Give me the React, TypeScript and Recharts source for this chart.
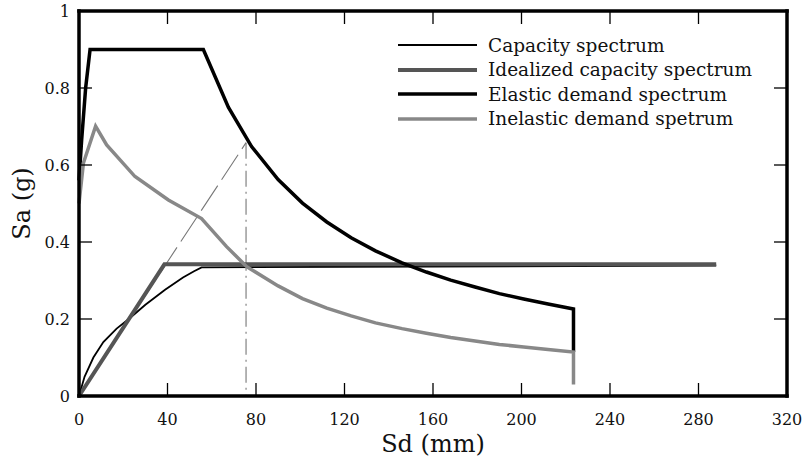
import { Legend, Line, LineChart, XAxis, YAxis } from 'recharts';

const sdTicks = [0, 40, 80, 120, 160, 200, 240, 280, 320];
const saTicks = [0, 0.2, 0.4, 0.6, 0.8, 1];

// capacity curve (pushover converted to ADRS)
const capacitySd = [0, 2.5, 6.5, 11, 17, 22.5, 30, 38.9, 47, 52, 55.4, 288];
const capacitySa = [0, 0.05, 0.1, 0.14, 0.175, 0.2, 0.237, 0.276, 0.308, 0.324, 0.334, 0.339];

// bilinear idealization
const idealSd = [0, 38.6, 288];
const idealSa = [0, 0.342, 0.342];

const elasticSd = [0, 1.2, 3, 5, 56.2, 67.5, 78, 90, 101, 112, 123, 134, 146, 157, 168, 179, 190, 201, 212, 223.5, 223.5];
const elasticSa = [0.56, 0.665, 0.8, 0.9, 0.9, 0.75, 0.648, 0.562, 0.501, 0.452, 0.411, 0.377, 0.346, 0.322, 0.301, 0.283, 0.266, 0.252, 0.239, 0.226, 0.114];

const inelasticSd = [0, 2, 7.5, 12.5, 25.3, 40.4, 55.4, 66.7, 75.8, 90, 101, 112, 123, 134, 146, 157, 168, 179, 190, 201, 212, 223.5, 223.5];
const inelasticSa = [0.5, 0.605, 0.701, 0.652, 0.57, 0.509, 0.461, 0.388, 0.336, 0.286, 0.253, 0.228, 0.208, 0.19, 0.175, 0.163, 0.152, 0.143, 0.134, 0.127, 0.121, 0.114, 0.03];

// construction lines for the performance point
const slopeSd = [0, 75.5];
const slopeSa = [0, 0.658];
const dropSd = [75.5, 75.5];
const dropSa = [0.658, 0];

const zip = (sd: number[], sa: number[]) => sd.map((v, i) => ({ sd: v, sa: sa[i] }));

const SERIES = [
  { name: 'Capacity spectrum', color: '#000000', width: 1.8, data: zip(capacitySd, capacitySa) },
  { name: 'Idealized capacity spectrum', color: '#555555', width: 4, data: zip(idealSd, idealSa) },
  { name: 'Elastic demand spectrum', color: '#000000', width: 3.5, data: zip(elasticSd, elasticSa) },
  { name: 'Inelastic demand spetrum', color: '#888888', width: 3.5, data: zip(inelasticSd, inelasticSa) },
];

const FONT = '"DejaVu Serif", serif';

const W = 803;
const H = 460;
const MARGIN = { top: 10, right: 15, left: 0, bottom: 0 };
const Y_AXIS_W = 79;
const X_AXIS_H = 64;
const SD_MAX = 320;
const SA_MAX = 1;
const TICK = 13;

// plot box, same numbers the chart lays itself out with
const PX0 = MARGIN.left + Y_AXIS_W;
const PX1 = W - MARGIN.right - 1;
const PY0 = MARGIN.top + 1;
const PY1 = H - MARGIN.bottom - X_AXIS_H;
const sx = (v: number) => PX0 + (v / SD_MAX) * (PX1 - PX0);
const sy = (v: number) => PY1 - (v / SA_MAX) * (PY1 - PY0);

// inward tick marks on all four sides (the frame in the reference has them everywhere)
function TickMarks() {
  return (
    <svg width={W} height={H} style={{ position: 'absolute', left: 0, top: 0, pointerEvents: 'none' }}>
      {sdTicks.slice(1, -1).map((v) => (
        <g key={`x${v}`} stroke="#000" strokeWidth={1.3}>
          <line x1={sx(v)} y1={PY1} x2={sx(v)} y2={PY1 - TICK} />
          <line x1={sx(v)} y1={PY0} x2={sx(v)} y2={PY0 + TICK} />
        </g>
      ))}
      {saTicks.slice(1, -1).map((v) => (
        <g key={`y${v}`} stroke="#000" strokeWidth={1.3}>
          <line x1={PX0} y1={sy(v)} x2={PX0 + TICK} y2={sy(v)} />
          <line x1={PX1} y1={sy(v)} x2={PX1 - TICK} y2={sy(v)} />
        </g>
      ))}
    </svg>
  );
}

function LegendBox() {
  return (
    <div style={{ fontFamily: FONT, fontSize: 18.5, color: '#111' }}>
      {SERIES.map((s) => (
        <div key={s.name} style={{ display: 'flex', alignItems: 'center', height: 24.5 }}>
          <svg width={79} height={10} style={{ marginRight: 11 }}>
            <line x1={0} y1={5} x2={79} y2={5} stroke={s.color} strokeWidth={s.width} />
          </svg>
          <span style={{ whiteSpace: 'nowrap' }}>{s.name}</span>
        </div>
      ))}
    </div>
  );
}

// tickSize=0 and tickMargin=0, so (x, y) sits on the axis line
const bottomTick = ({ x, y, payload }: any) => (
  <text x={x} y={y + 29} textAnchor="middle" fill="#111" fontSize={16} fontFamily={FONT}>
    {payload.value}
  </text>
);
const leftTick = ({ x, y, payload }: any) => (
  <text x={x - 9} y={y + 6} textAnchor="end" fill="#111" fontSize={16} fontFamily={FONT}>
    {payload.value}
  </text>
);
const noLabel = () => <g />;

const axisTitle = { fontFamily: FONT, fontSize: 24, fill: '#111' };
const frame = { stroke: '#000', strokeWidth: 3.5, strokeLinecap: 'square' as const };

export default function App() {
  return (
    <div style={{ position: 'absolute', left: 0, top: 0, width: W, height: H, background: '#fff' }}>
      <LineChart width={W} height={H} margin={MARGIN}>
        <XAxis
          dataKey="sd"
          type="number"
          domain={[0, SD_MAX]}
          ticks={sdTicks}
          interval={0}
          height={X_AXIS_H}
          axisLine={frame}
          tickLine={false}
          tickSize={0}
          tickMargin={0}
          tick={bottomTick}
          label={{ value: 'Sd (mm)', position: 'insideBottom', offset: 8, style: axisTitle }}
        />
        <XAxis xAxisId="top" orientation="top" type="number" domain={[0, SD_MAX]} ticks={sdTicks} height={1} axisLine={frame} tickLine={false} tick={noLabel} />
        <YAxis
          type="number"
          domain={[0, SA_MAX]}
          ticks={saTicks}
          interval={0}
          width={Y_AXIS_W}
          axisLine={frame}
          tickLine={false}
          tickSize={0}
          tickMargin={0}
          tick={leftTick}
          label={{ value: 'Sa (g)', angle: -90, position: 'center', dx: -18, style: { ...axisTitle, textAnchor: 'middle' } }}
        />
        <YAxis yAxisId="right" orientation="right" type="number" domain={[0, SA_MAX]} ticks={saTicks} width={1} axisLine={frame} tickLine={false} tick={noLabel} />

        <Line data={zip(slopeSd, slopeSa)} dataKey="sa" stroke="#777" strokeWidth={1.1} strokeDasharray="30 7" dot={false} legendType="none" isAnimationActive={false} />
        <Line data={zip(dropSd, dropSa)} dataKey="sa" stroke="#777" strokeWidth={1.1} strokeDasharray="16 5 2 5" dot={false} legendType="none" isAnimationActive={false} />
        {SERIES.map((s) => (
          <Line
            key={s.name}
            name={s.name}
            data={s.data}
            dataKey="sa"
            type="linear"
            stroke={s.color}
            strokeWidth={s.width}
            strokeLinejoin="miter"
            dot={false}
            isAnimationActive={false}
          />
        ))}
        <Legend
          layout="vertical"
          align="center"
          verticalAlign="middle"
          content={<LegendBox />}
          wrapperStyle={{ position: 'absolute', left: 398, top: 33, width: 'auto', height: 'auto' }}
        />
      </LineChart>
      <TickMarks />
    </div>
  );
}
